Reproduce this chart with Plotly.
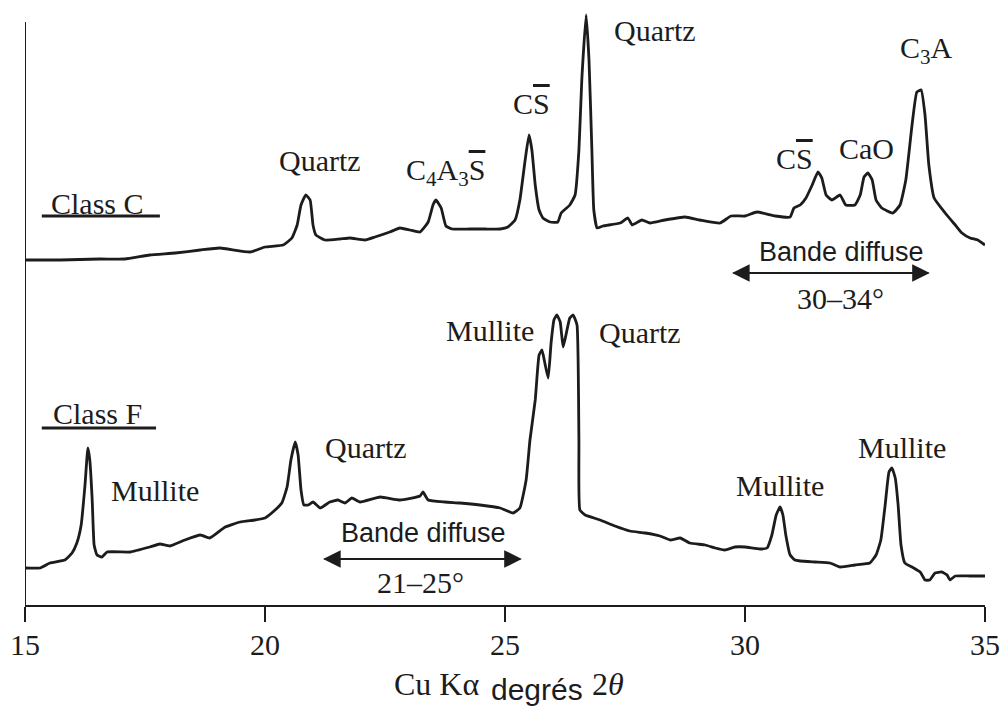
import plotly.graph_objects as go

# Class C pattern (2theta in degrees, intensity a.u.)
c_theta = [15.00, 15.73, 16.56, 17.08, 17.60, 18.13, 18.65, 19.06, 19.69, 20.00, 20.38, 20.56, 20.67, 20.75,
           20.85, 20.94, 21.00, 21.06, 21.25, 21.56, 21.77, 22.08, 22.29, 22.60, 22.81, 23.02, 23.23, 23.40,
           23.50, 23.56, 23.67, 23.77, 23.90, 24.27, 24.58, 24.90, 25.06, 25.21, 25.31, 25.42, 25.50, 25.56,
           25.63, 25.71, 25.79, 25.94, 26.10, 26.17, 26.35, 26.46, 26.54, 26.60, 26.69, 26.75, 26.81, 26.85,
           26.92, 27.04, 27.40, 27.56, 27.65, 27.85, 28.02, 28.33, 28.75, 29.06, 29.48, 29.71, 30.00, 30.25,
           30.63, 30.94, 31.02, 31.15, 31.27, 31.40, 31.52, 31.60, 31.69, 31.81, 31.98, 32.10, 32.29, 32.40,
           32.48, 32.56, 32.65, 32.73, 32.85, 33.08, 33.23, 33.35, 33.48, 33.58, 33.67, 33.75, 33.83, 33.94,
           34.17, 34.38, 34.52, 34.69, 34.85, 35.00]
c_int = [345, 345, 346, 346, 350, 352, 355, 357, 353, 358, 360, 367, 380, 400,
         410, 405, 380, 370, 365, 366, 367, 365, 368, 373, 377, 375, 373, 383,
         400, 405, 397, 379, 376, 376, 376, 376, 378, 385, 405, 445, 470, 455,
         420, 395, 387, 383, 383, 392, 400, 410, 455, 525, 590, 545, 455, 395,
         377, 379, 382, 387, 380, 385, 382, 385, 388, 385, 382, 389, 389, 393,
         389, 388, 397, 400, 407, 420, 433, 427, 410, 405, 410, 400, 400, 410,
         428, 432, 425, 405, 397, 392, 400, 425, 480, 513, 515, 490, 440, 407,
         392, 380, 372, 367, 365, 360]

# Class F pattern
f_theta = [15.00, 15.31, 15.52, 15.83, 15.98, 16.08, 16.17, 16.25, 16.31, 16.35, 16.40, 16.44, 16.50, 16.60,
           16.71, 17.19, 17.60, 17.81, 18.02, 18.33, 18.65, 18.85, 19.17, 19.48, 19.79, 20.00, 20.21, 20.35,
           20.46, 20.54, 20.63, 20.69, 20.75, 20.81, 20.90, 21.00, 21.15, 21.35, 21.52, 21.67, 21.81, 21.98,
           22.40, 22.81, 23.23, 23.29, 23.40, 23.75, 24.06, 24.48, 24.90, 25.17, 25.31, 25.44, 25.52, 25.63,
           25.71, 25.77, 25.83, 25.90, 25.96, 26.02, 26.08, 26.15, 26.21, 26.27, 26.35, 26.42, 26.50, 26.54,
           26.56, 26.67, 26.98, 27.29, 27.60, 27.92, 28.23, 28.44, 28.65, 28.85, 29.17, 29.38, 29.58, 29.79,
           30.00, 30.31, 30.46, 30.56, 30.65, 30.73, 30.79, 30.85, 30.94, 31.04, 31.15, 31.46, 31.77, 31.98,
           32.29, 32.60, 32.73, 32.83, 32.92, 33.00, 33.06, 33.13, 33.19, 33.25, 33.33, 33.48, 33.65, 33.75,
           33.85, 33.96, 34.10, 34.21, 34.27, 34.38, 34.69, 35.00]
f_int = [37, 37, 42, 45, 52, 62, 80, 120, 157, 145, 105, 60, 50, 48,
         53, 53, 58, 61, 59, 65, 70, 67, 78, 83, 85, 87, 95, 102,
         118, 145, 163, 150, 115, 100, 100, 103, 97, 103, 105, 102, 107, 103,
         108, 105, 109, 113, 105, 103, 102, 100, 97, 92, 97, 125, 165, 205,
         250, 255, 242, 227, 262, 285, 290, 283, 258, 270, 287, 290, 280, 165,
         95, 90, 85, 79, 74, 72, 69, 65, 67, 62, 60, 57, 55, 58,
         58, 56, 57, 70, 90, 98, 90, 70, 50, 45, 44, 43, 42, 38,
         40, 42, 50, 65, 100, 133, 137, 127, 100, 60, 42, 38, 33, 25,
         25, 32, 33, 30, 25, 29, 29, 29]

x_ticks = [15, 20, 25, 30, 35]

INK = "#1c1c1c"
SERIF = "Liberation Serif, Times New Roman, serif"
SANS = "Liberation Sans, Arial, sans-serif"
OL = "<span style='text-decoration:overline'>S</span>"

fig = go.Figure()
fig.add_trace(go.Scatter(x=c_theta, y=c_int, mode="lines",
                         line=dict(color=INK, width=2.8, shape="spline", smoothing=0.4), showlegend=False))
fig.add_trace(go.Scatter(x=f_theta, y=f_int, mode="lines",
                         line=dict(color=INK, width=2.8, shape="spline", smoothing=0.4), showlegend=False))

labels = [
    ("Class C", 16.50, 402, SERIF),
    ("Quartz", 21.15, 445, SERIF),
    ("C<sub>4</sub>A<sub>3</sub>" + OL, 23.75, 433, SERIF),
    ("C" + OL, 25.56, 502, SERIF),
    ("Quartz", 28.13, 575, SERIF),
    ("C<sub>3</sub>A", 33.79, 555, SERIF),
    ("C" + OL, 31.04, 447, SERIF),
    ("CaO", 32.54, 457, SERIF),
    ("Bande diffuse", 32.00, 353, SANS),
    ("30–34°", 31.98, 307, SERIF),
    ("Class F", 16.52, 192, SERIF),
    ("Mullite", 17.71, 115, SERIF),
    ("Quartz", 22.10, 158, SERIF),
    ("Bande diffuse", 23.31, 72, SANS),
    ("21–25°", 23.23, 23, SERIF),
    ("Mullite", 24.69, 275, SERIF),
    ("Quartz", 27.81, 273, SERIF),
    ("Mullite", 30.73, 120, SERIF),
    ("Mullite", 33.27, 158, SERIF),
]
for txt, x, y, fam in labels:
    fig.add_annotation(x=x, y=y, xref="x", yref="y", text=txt, showarrow=False,
                       xanchor="center", yanchor="middle",
                       font=dict(family=fam, size=27 if fam == SANS else 30, color=INK))

# double-headed arrows for diffuse bands (each arrow spans the whole band)
for x0, x1, y in [(29.73, 33.85, 332), (21.21, 25.35, 46)]:
    for head, tail in ((x0, x1), (x1, x0)):
        fig.add_annotation(x=head, y=y, ax=tail, ay=y, xref="x", yref="y", axref="x", ayref="y",
                           text="", showarrow=True, arrowhead=2, arrowsize=1.6, arrowwidth=2.2,
                           arrowcolor=INK, standoff=0, startstandoff=0)

# underline of class labels
for x0, x1, y in [(15.35, 17.81, 389), (15.35, 17.73, 177)]:
    fig.add_shape(type="line", x0=x0, x1=x1, y0=y, y1=y, xref="x", yref="y",
                  line=dict(color=INK, width=3))

# left axis line
fig.add_shape(type="line", x0=15, x1=15, y0=0, y1=583, xref="x", yref="y",
              line=dict(color=INK, width=2))

# axis title pieces
fig.add_annotation(x=0.429, y=-0.130, xref="paper", yref="paper", text="Cu Kα", showarrow=False,
                   xanchor="center", yanchor="middle", font=dict(family=SERIF, size=32, color=INK))
fig.add_annotation(x=0.533, y=-0.139, xref="paper", yref="paper", text="degrés", showarrow=False,
                   xanchor="center", yanchor="middle", font=dict(family=SANS, size=30, color=INK))
fig.add_annotation(x=0.607, y=-0.131, xref="paper", yref="paper", text="2<i>θ</i>", showarrow=False,
                   xanchor="center", yanchor="middle", font=dict(family=SERIF, size=32, color=INK))

fig.update_layout(
    width=1000, height=706,
    margin=dict(l=25, r=15, t=0, b=101),
    paper_bgcolor="white", plot_bgcolor="white",
    font=dict(family=SERIF, color=INK),
    xaxis=dict(range=[15, 35], tickmode="array", tickvals=x_ticks, ticktext=[str(v) for v in x_ticks],
               showline=True, linecolor=INK, linewidth=2, ticks="outside", ticklen=15,
               tickwidth=2, tickcolor=INK, showgrid=False, zeroline=False,
               tickfont=dict(family=SERIF, size=30, color=INK), ticklabelstandoff=-3),
    yaxis=dict(range=[0, 605], visible=False, showgrid=False, zeroline=False),
)

fig.write_html("out.html")
